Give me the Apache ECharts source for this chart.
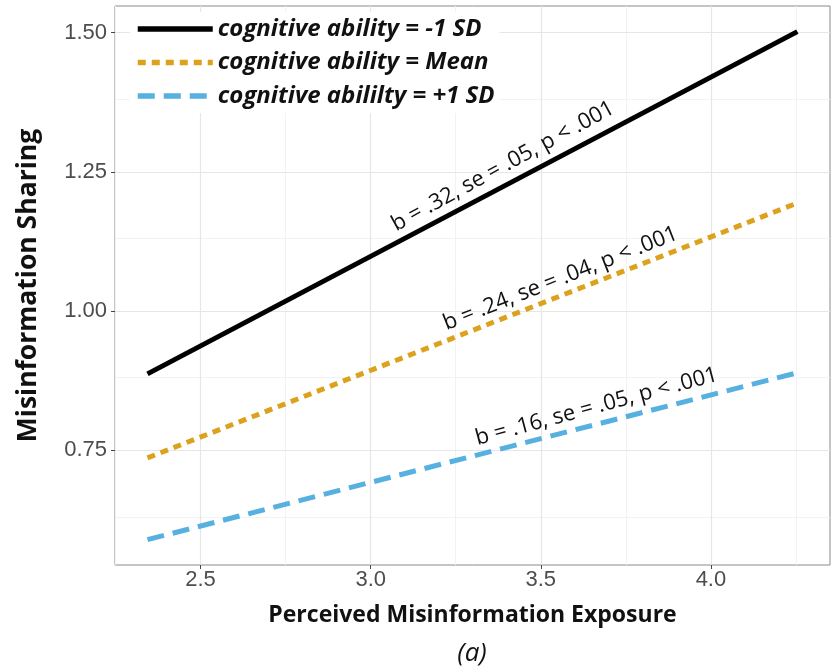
<!DOCTYPE html>
<html>
<head>
<meta charset="utf-8">
<script src="https://cdn.jsdelivr.net/npm/echarts@6/dist/echarts.min.js"></script>
<style>
html,body{margin:0;padding:0;background:#fff;}
#c{width:833px;height:671px;}
</style>
</head>
<body>
<div id="c"></div>
<script>
// ---- data ----
const exposure = [2.344, 4.254];
const sharingLow = [0.887, 1.502];   // cognitive ability = -1 SD
const sharingMean = [0.736, 1.194];  // cognitive ability = Mean
const sharingHigh = [0.589, 0.889];  // cognitive ability = +1 SD
const seriesNames = ['cognitive ability = -1 SD', 'cognitive ability = Mean', 'cognitive abililty = +1 SD'];
const annotations = ['b = .32, se = .05, p < .001', 'b = .24, se = .04, p < .001', 'b = .16, se = .05, p < .001'];
const annotationAnchor = [[3.389, 1.260], [3.558, 1.058], [3.664, 0.828]];
const xTicks = [2.5, 3.0, 3.5, 4.0];
const xMinor = [2.25, 2.75, 3.25, 3.75, 4.25];
const yTicks = [0.75, 1.00, 1.25, 1.50];
const yMinor = [0.625, 0.875, 1.125, 1.375];
const xRange = [2.2485, 4.35];
const yRange = [0.5435, 1.548];

const colors = ['#000000', '#DCA21E', '#56B0E0'];
const dashes = ['solid', [8, 6], [17, 9]];
const angles = [28.5, 21.5, 15];

function pairs(xs, ys) { return xs.map((x, i) => [x, ys[i]]); }
const values = [sharingLow, sharingMean, sharingHigh];

const gridLines = [];
xMinor.forEach(v => gridLines.push({xAxis: v, lineStyle: {color: '#f2f2f2', width: 1, type: 'solid'}}));
yMinor.forEach(v => gridLines.push({yAxis: v, lineStyle: {color: '#f2f2f2', width: 1, type: 'solid'}}));
xTicks.forEach(v => gridLines.push({xAxis: v, lineStyle: {color: '#e6e6e6', width: 1.2, type: 'solid'}}));
yTicks.forEach(v => gridLines.push({yAxis: v, lineStyle: {color: '#e6e6e6', width: 1.2, type: 'solid'}}));

const series = [{
  type: 'line', name: '__grid', data: [], z: 0, silent: true,
  markLine: {silent: true, z: 0, symbol: ['none', 'none'], label: {show: false}, animation: false, data: gridLines}
}];
values.forEach((v, i) => {
  series.push({
    type: 'line', name: seriesNames[i], data: pairs(exposure, v), symbol: 'none', z: 3,
    lineStyle: {color: colors[i], width: 5, type: dashes[i], cap: 'butt'},
    itemStyle: {color: colors[i]},
    markPoint: {
      symbol: 'circle', symbolSize: 0, silent: true, animation: false, z: 3,
      label: {show: true, position: 'inside', formatter: annotations[i], rotate: angles[i],
        color: '#111', fontSize: 22, fontFamily: 'Open Sans'},
      data: [{coord: annotationAnchor[i]}]
    }
  });
});

const chart = echarts.init(document.getElementById('c'));
chart.setOption({
  animation: false,
  backgroundColor: '#fff',
  grid: {left: 115, right: 3, top: 6, bottom: 106, show: true, borderColor: '#8a8a8a', borderWidth: 1, backgroundColor: '#fff'},
  title: {
    text: '(a)', left: 472, top: 641, textAlign: 'center', padding: 0,
    textStyle: {fontSize: 26, fontStyle: 'italic', fontWeight: 'normal', fontFamily: 'Open Sans', color: '#111'}
  },
  legend: {
    orient: 'vertical', left: 130, top: 12, z: 10,
    data: seriesNames,
    backgroundColor: '#fff',
    itemWidth: 75, itemHeight: 24, itemGap: 9.5,
    itemStyle: {opacity: 0},
    lineStyle: {width: 5.5, cap: 'butt'},
    textStyle: {fontSize: 24, fontStyle: 'italic', fontWeight: 'bold', fontFamily: 'Open Sans', color: '#111', lineHeight: 24},
    selectedMode: false
  },
  xAxis: {
    type: 'value', min: xRange[0], max: xRange[1],
    name: 'Perceived Misinformation Exposure', nameLocation: 'middle', nameGap: 39,
    nameTextStyle: {fontSize: 23, fontWeight: 'bold', fontFamily: 'Open Sans', color: '#111'},
    axisLine: {show: false},
    axisTick: {show: true, customValues: xTicks, length: 4, lineStyle: {color: '#444'}},
    axisLabel: {customValues: xTicks, formatter: v => v.toFixed(1), fontSize: 22, color: '#4d4d4d', fontFamily: 'Liberation Sans', margin: 4},
    splitLine: {show: false}
  },
  yAxis: {
    type: 'value', min: yRange[0], max: yRange[1],
    name: 'Misinformation Sharing', nameLocation: 'middle', nameGap: 73,
    nameTextStyle: {fontSize: 26.5, fontWeight: 'bold', fontFamily: 'Open Sans', color: '#111'},
    axisLine: {show: false},
    axisTick: {show: true, customValues: yTicks, length: 4, lineStyle: {color: '#444'}},
    axisLabel: {customValues: yTicks, formatter: v => v.toFixed(2), fontSize: 22, color: '#4d4d4d', fontFamily: 'Liberation Sans', margin: 8},
    splitLine: {show: false}
  },
  series: series
});
</script>
</body>
</html>
